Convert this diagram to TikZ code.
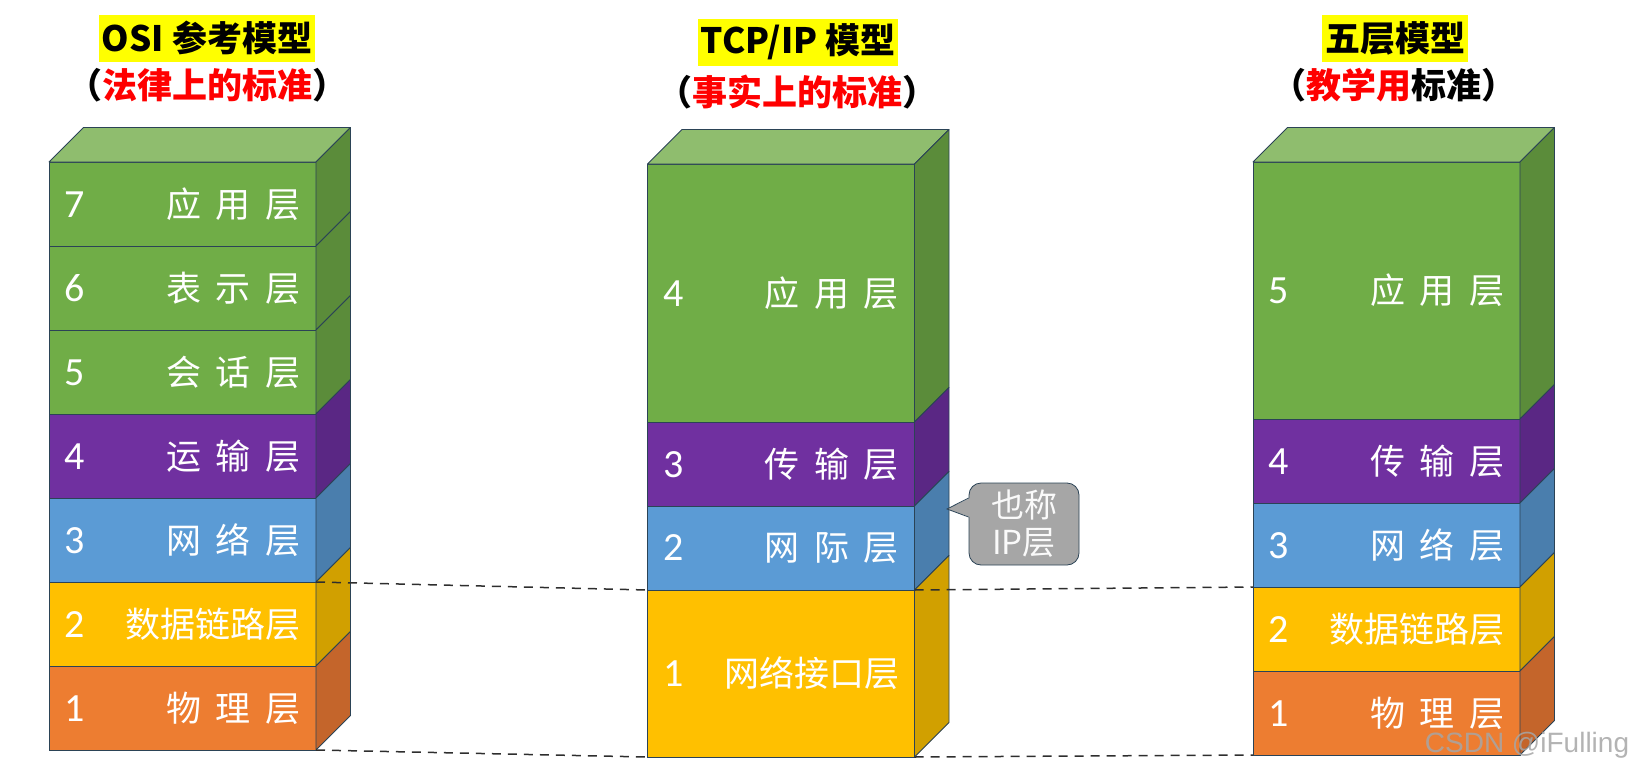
\documentclass[tikz,border=0pt]{standalone}
\usepackage{fontspec}
\setmainfont{Noto Sans CJK SC}
\newfontfamily\numfont{Carlito}
\newfontfamily\markfont{Liberation Sans}
\usetikzlibrary{positioning}

\definecolor{appgreen}{HTML}{70AD47}
\definecolor{appgreenside}{HTML}{5B8C3A}
\definecolor{appgreentop}{HTML}{8FBD6E}
\definecolor{tpurple}{HTML}{7030A0}
\definecolor{tpurpleside}{HTML}{5A2784}
\definecolor{nblue}{HTML}{5B9BD5}
\definecolor{nblueside}{HTML}{4A7EAD}
\definecolor{dyellow}{HTML}{FFC000}
\definecolor{dyellowside}{HTML}{D1A000}
\definecolor{porange}{HTML}{ED7D31}
\definecolor{porangeside}{HTML}{C4652B}
\definecolor{edgecol}{HTML}{2B4356}
\definecolor{hlyellow}{HTML}{FFFF00}
\definecolor{notegray}{HTML}{A6A6A6}

\newcommand{\lyrdepth}{34.5}
\newcommand{\gp}{\hspace{0.42em}}
\newcommand{\lyr}[2]{\makebox[236pt]{{\numfont\fontsize{40}{40}\selectfont #1}\hfill #2}}
\newcommand{\sideface}[2]{\filldraw[face,fill=#2] (#1.north east) -- ++(\lyrdepth,-\lyrdepth) -- ([shift={(\lyrdepth,-\lyrdepth)}]#1.south east) -- (#1.south east) -- cycle;}
\newcommand{\topface}[2]{\filldraw[face,fill=#2] (#1.north west) -- ++(\lyrdepth,-\lyrdepth) -- ([shift={(\lyrdepth,-\lyrdepth)}]#1.north east) -- (#1.north east) -- cycle;}

\begin{document}
\begin{tikzpicture}[x=1pt,y=-1pt,node distance=0pt,
    layer/.style={draw=edgecol,line width=0.8pt,minimum width=267pt,inner sep=0pt,outer sep=0pt,text=white,font=\fontsize{35}{40}\selectfont},
    face/.style={draw=edgecol,line width=0.8pt,line join=round},
    title/.style={fill=hlyellow,minimum height=47pt,inner xsep=3pt,inner ysep=0pt,font=\bfseries\fontsize{35}{42}\selectfont},
    subtitle/.style={font=\bfseries\fontsize{35}{42}\selectfont},
    link/.style={line width=1.5pt,draw=black!82,dash pattern=on 9pt off 7pt},
    note/.style={fill=notegray,draw=edgecol,line width=0.8pt,rounded corners=12pt,minimum width=110pt,minimum height=82pt,inner sep=0pt,align=center,text=white!96!gray,font=\fontsize{33}{37}\selectfont}]
    \useasboundingbox (0,0) rectangle (1639,774);

    % titles
    \node[title] (osititle) at (207,38) {OSI 参考模型};
    \node[subtitle] (osisub) at (207,85) {（\textcolor{red}{法律上的标准}）};
    \node[title] (tcptitle) at (798,42) {TCP/IP 模型};
    \node[subtitle] (tcpsub) at (797,92) {（\textcolor{red}{事实上的标准}）};
    \node[title] (fivetitle) at (1395,38) {五层模型};
    \node[subtitle] (fivesub) at (1394,85) {（\textcolor{red}{教学用}标准）};

    % OSI stack
    \node[layer,fill=appgreen,minimum height=84pt] (osi7) at (182.5,204) {\lyr{7}{应\gp 用\gp 层}};
    \node[layer,fill=appgreen,minimum height=84pt,below=of osi7] (osi6) {\lyr{6}{表\gp 示\gp 层}};
    \node[layer,fill=appgreen,minimum height=84pt,below=of osi6] (osi5) {\lyr{5}{会\gp 话\gp 层}};
    \node[layer,fill=tpurple,minimum height=84pt,below=of osi5] (osi4) {\lyr{4}{运\gp 输\gp 层}};
    \node[layer,fill=nblue,minimum height=84pt,below=of osi4] (osi3) {\lyr{3}{网\gp 络\gp 层}};
    \node[layer,fill=dyellow,minimum height=84pt,below=of osi3] (osi2) {\lyr{2}{数据链路层}};
    \node[layer,fill=porange,minimum height=84pt,below=of osi2] (osi1) {\lyr{1}{物\gp 理\gp 层}};
    \topface{osi7}{appgreentop}
    \sideface{osi7}{appgreenside}
    \sideface{osi6}{appgreenside}
    \sideface{osi5}{appgreenside}
    \sideface{osi4}{tpurpleside}
    \sideface{osi3}{nblueside}
    \sideface{osi2}{dyellowside}
    \sideface{osi1}{porangeside}

    % TCP/IP stack
    \node[layer,fill=appgreen,minimum height=258pt] (tcp4) at (781,293) {\lyr{4}{应\gp 用\gp 层}};
    \node[layer,fill=tpurple,minimum height=84pt,below=of tcp4] (tcp3) {\lyr{3}{传\gp 输\gp 层}};
    \node[layer,fill=nblue,minimum height=84pt,below=of tcp3] (tcp2) {\lyr{2}{网\gp 际\gp 层}};
    \node[layer,fill=dyellow,minimum height=167pt,below=of tcp2] (tcp1) {\lyr{1}{网络接口层}};
    \topface{tcp4}{appgreentop}
    \sideface{tcp4}{appgreenside}
    \sideface{tcp3}{tpurpleside}
    \sideface{tcp2}{nblueside}
    \sideface{tcp1}{dyellowside}

    % five-layer stack
    \node[layer,fill=appgreen,minimum height=257pt] (five5) at (1386.5,290.5) {\lyr{5}{应\gp 用\gp 层}};
    \node[layer,fill=tpurple,minimum height=84pt,below=of five5] (five4) {\lyr{4}{传\gp 输\gp 层}};
    \node[layer,fill=nblue,minimum height=84pt,below=of five4] (five3) {\lyr{3}{网\gp 络\gp 层}};
    \node[layer,fill=dyellow,minimum height=84pt,below=of five3] (five2) {\lyr{2}{数据链路层}};
    \node[layer,fill=porange,minimum height=84pt,below=of five2] (five1) {\lyr{1}{物\gp 理\gp 层}};
    \topface{five5}{appgreentop}
    \sideface{five5}{appgreenside}
    \sideface{five4}{tpurpleside}
    \sideface{five3}{nblueside}
    \sideface{five2}{dyellowside}
    \sideface{five1}{porangeside}

    % callout
    \node[note] (ipnote) at (1024,524) {也称\\IP层};
    \coordinate (notetip) at (947,509);
    \fill[notegray] ([shift={(1.5pt,26pt)}]ipnote.west) -- (notetip) -- ([shift={(1.5pt,7pt)}]ipnote.west) -- cycle;
    \draw[edgecol,line width=0.8pt] ([yshift=26pt]ipnote.west) -- (notetip) -- ([yshift=7pt]ipnote.west);

    % dashed links
    \draw[link] (osi2.north east) -- (tcp1.north west);
    \draw[link] (osi1.south east) -- (tcp1.south west);
    \draw[link] (tcp1.north east) -- (five2.north west);
    \draw[link] (tcp1.south east) -- (five1.south west);

    \node[font=\markfont\fontsize{28}{30}\selectfont,text=gray!70,opacity=0.85] (mark) at (1527,745) {CSDN @iFulling};
\end{tikzpicture}
\end{document}
